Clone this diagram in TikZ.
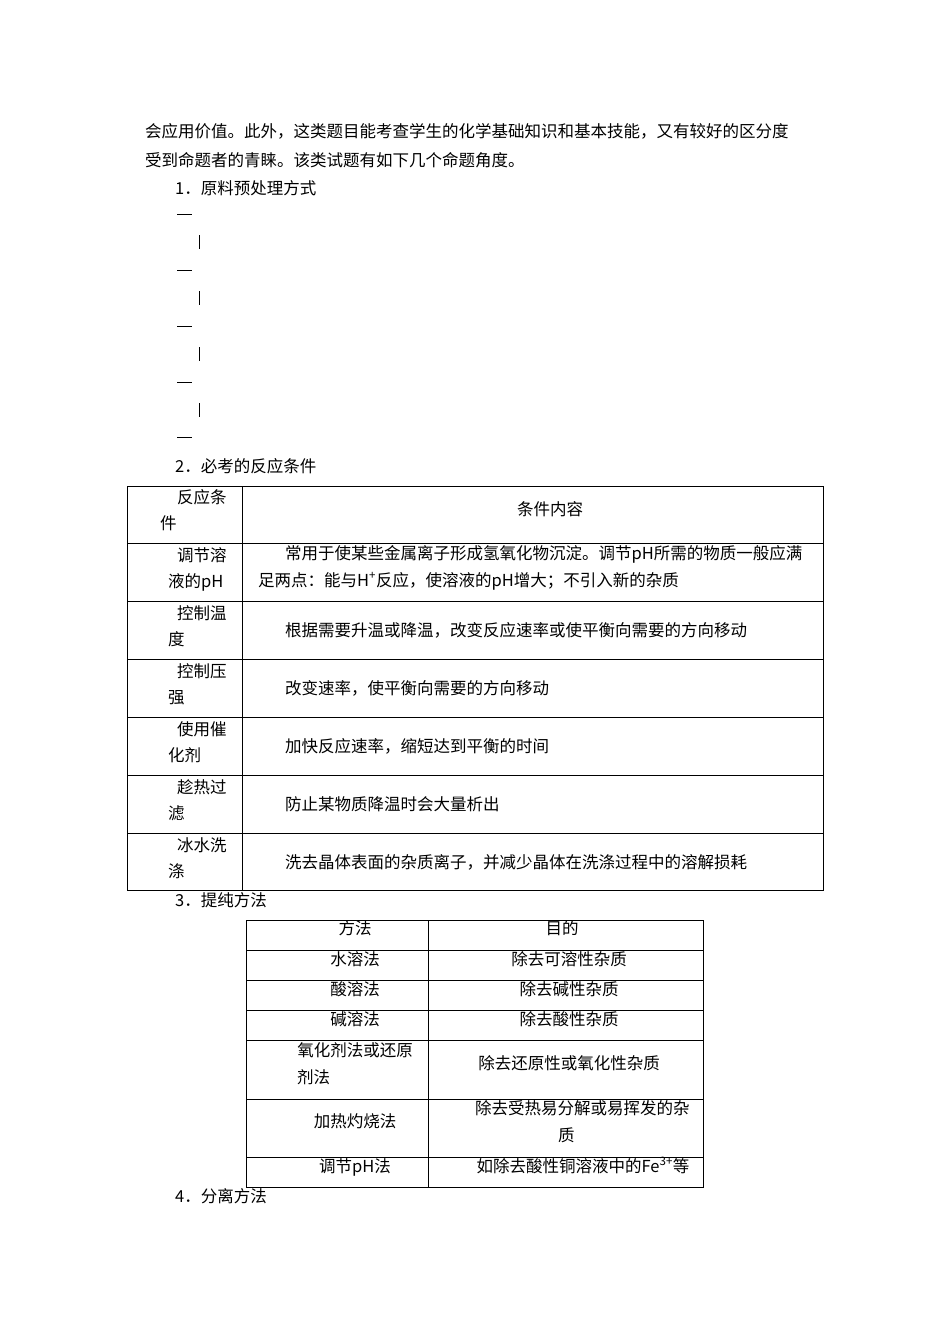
\documentclass[tikz,border=0pt]{standalone}
\usepackage{fontspec}
\setmainfont{Noto Sans CJK SC}
\begin{document}
\begin{tikzpicture}[x=1pt,y=-1pt,
  t/.style={anchor=base west,inner sep=0pt,font=\fontsize{16.5}{20}\selectfont},
  c/.style={anchor=base,inner sep=0pt,font=\fontsize{16.5}{20}\selectfont},
  rule/.style={line width=0.7pt}]
\useasboundingbox[fill=white] (0,0) rectangle (950,1344);
\node[t] (p1) at (145,137) {会应用价值。此外，这类题目能考查学生的化学基础知识和基本技能，又有较好的区分度};
\node[t] (p2) at (145,166) {受到命题者的青睐。该类试题有如下几个命题角度。};
\node[t] (h1) at (175,194) {1．原料预处理方式};
\foreach \y in {214,270,326,382,437}{\draw[rule] (177,\y) -- (192,\y);}
\foreach \y in {242,298,354,410}{\draw[rule] (199,\y-7) -- (199,\y+7);}
\node[t] (h2) at (175,472) {2．必考的反应条件};
% table 1
\draw[rule] (127,486) rectangle (823,890);
\draw[rule] (242,486) -- (242,890);
\foreach \y in {543,601,659,717,775,833}{\draw[rule] (127,\y) -- (823,\y);}
\node[t] (a0) at (177,503) {反应条};
\node[t] (a0b) at (160,529) {件};
\node[c] (b0) at (550,515) {条件内容};
\node[t] at (285,559) {常用于使某些金属离子形成氢氧化物沉淀。调节pH所需的物质一般应满};
\node[t] at (258,586) {足两点：能与H\textsuperscript{+}反应，使溶液的pH增大；不引入新的杂质};
\foreach \y/\l/\m/\r in {549/调节溶/液的pH/{},607/控制温/度/根据需要升温或降温，改变反应速率或使平衡向需要的方向移动,665/控制压/强/改变速率，使平衡向需要的方向移动,723/使用催/化剂/加快反应速率，缩短达到平衡的时间,781/趁热过/滤/防止某物质降温时会大量析出,839/冰水洗/涤/洗去晶体表面的杂质离子，并减少晶体在洗涤过程中的溶解损耗}{
  \node[t] at (177,\y+12) {\l};
  \node[t] at (168,\y+38) {\m};
  \node[t] at (285,\y+29) {\r};
}
\node[t] (h3) at (175,906) {3．提纯方法};
% table 2
\draw[rule] (246,920) rectangle (703,1187);
\draw[rule] (428,920) -- (428,1187);
\foreach \y in {950,980,1010,1040,1099,1157}{\draw[rule] (246,\y) -- (703,\y);}
\node[c] at (355,934) {方法}; \node[c] at (562,934) {目的};
\node[c] at (355,965) {水溶法}; \node[c] at (569,965) {除去可溶性杂质};
\node[c] at (355,995) {酸溶法}; \node[c] at (569,995) {除去碱性杂质};
\node[c] at (355,1025) {碱溶法}; \node[c] at (569,1025) {除去酸性杂质};
\node[c] at (355,1056) {氧化剂法或还原}; \node[t] at (297,1083) {剂法};
\node[c] at (569,1069) {除去还原性或氧化性杂质};
\node[c] at (355,1127) {加热灼烧法};
\node[t] at (475,1114) {除去受热易分解或易挥发的杂}; \node[t] at (558,1141) {质};
\node[c] at (355,1172) {调节pH法}; \node[c] at (583,1172) {如除去酸性铜溶液中的Fe\textsuperscript{3+}等};
\node[t] (h4) at (175,1202) {4．分离方法};
\end{tikzpicture}
\end{document}
